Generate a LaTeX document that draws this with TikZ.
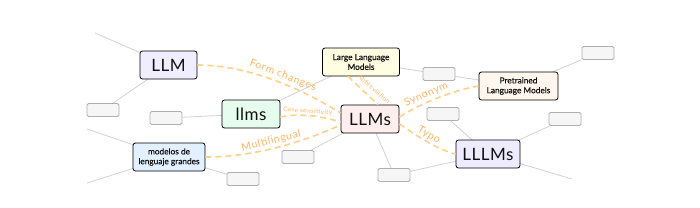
\documentclass[tikz,border=0pt]{standalone}
\usepackage{fontspec}
\setmainfont{Lato}
\newfontfamily\labfont[LetterSpace=6]{Lato}
\newfontfamily\bigfont[LetterSpace=3]{Lato}
\newfontfamily\smallfont[FakeBold=0.5]{Lato}
\usetikzlibrary{backgrounds}
\definecolor{cLLM}{HTML}{F0EDFF}
\definecolor{cllms}{HTML}{E6FCEF}
\definecolor{cmod}{HTML}{E2F0FF}
\definecolor{cLarge}{HTML}{FFFDE2}
\definecolor{cLLMs}{HTML}{FFEEEE}
\definecolor{cPre}{HTML}{FFF7EE}
\definecolor{cLLLMs}{HTML}{EEEBFF}
\definecolor{stubfill}{HTML}{F6F6F6}
\definecolor{stubline}{HTML}{AFAFAF}
\definecolor{linkgray}{HTML}{D2D2D2}
\definecolor{relorange}{HTML}{FFD08C}
\definecolor{laborange}{HTML}{FFB562}
\definecolor{txt}{HTML}{111111}
\begin{document}
\begin{tikzpicture}[x=1pt,y=-1pt,
  concept/.style={draw=black, line width=0.8pt, rounded corners=2.5pt, inner sep=0pt,
    minimum height=28pt, text=txt, align=center},
  bigc/.style={concept, font=\bigfont\fontsize{17}{20}\selectfont},
  smallc/.style={concept, font=\smallfont\fontsize{8.3}{9.8}\selectfont},
  stub/.style={draw=stubline, fill=stubfill, line width=0.8pt, rounded corners=1.5pt,
    minimum width=32pt, minimum height=13pt, inner sep=0pt},
  link/.style={draw=linkgray, line width=0.8pt},
  rel/.style={draw=relorange, line width=1.6pt, dash pattern=on 6pt off 4pt},
  rellab/.style={text=laborange, font=\labfont\fontsize{10.5}{12}\selectfont, sloped, inner sep=1pt},
  tinylab/.style={text=laborange, font=\labfont\fontsize{6.5}{8}\selectfont, inner sep=0.5pt},
]
\useasboundingbox (0,0) rectangle (700,207);

% concept nodes
\node[bigc, fill=cLLM, minimum width=57pt] (LLM) at (168.5,65) {LLM};
\node[bigc, fill=cllms, minimum width=58pt] (llms) at (251,114) {llms};
\node[smallc, fill=cmod, minimum width=72pt] (mod) at (169,157) {modelos de\\lenguaje grandes};
\node[smallc, fill=cLarge, minimum width=77pt] (large) at (361,62) {Large Language\\Models};
\node[bigc, fill=cLLMs, minimum width=58pt] (LLMs) at (370,119) {LLMs};
\node[smallc, fill=cPre, minimum width=79pt] (pre) at (518.5,86) {Pretrained\\Language Models};
\node[bigc, fill=cLLLMs, minimum width=64pt] (LLLMs) at (488,154) {LLLMs};

% stub nodes
\node[stub] (g1) at (103,110) {};
\node[stub] (g2) at (166,118) {};
\node[stub] (g3) at (243,179) {};
\node[stub] (g4) at (298,157) {};
\node[stub] (g5) at (394,175) {};
\node[stub] (g6) at (439,74) {};
\node[stub] (g7) at (598,53) {};
\node[stub] (g8) at (443,114) {};
\node[stub] (g9) at (565,119) {};

% free ends
\coordinate (f1) at (95,33);
\coordinate (f2) at (87,129);
\coordinate (f3) at (87,183);
\coordinate (f4) at (572,179);

\begin{scope}[on background layer]
  \fill[white] (0,0) rectangle (700,207);
  \draw[link] (f1) -- (LLM.center);
  \draw[link] (LLM.center) -- (g1);
  \draw[link] (llms.center) -- (g2);
  \draw[link] (llms.center) -- (large.center);
  \draw[link] (f2) -- (mod.center);
  \draw[link] (f3) -- (mod.center);
  \draw[link] (mod.center) -- (g3);
  \draw[link] (LLMs.center) -- (g4);
  \draw[link] (LLMs.center) -- (g5);
  \draw[link] (large.center) -- (g6);
  \draw[link] (g6) -- (pre.center);
  \draw[link] (pre.center) -- (g7);
  \draw[link] (LLLMs.center) -- (g8);
  \draw[link] (LLLMs.center) -- (g9);
  \draw[link] (LLLMs.center) -- (g5);
  \draw[link] (LLLMs.center) -- (f4);
\end{scope}

% relation curves
\draw[rel] (LLM.east) .. controls +(50,0) and +(-40,-25) .. ([yshift=6pt]LLMs.west)
  node[rellab, pos=0.55, above=1pt] {Form changes};
\draw[rel] ([yshift=-3pt]llms.east) .. controls +(20,-4) and +(-20,-6) .. ([yshift=-3pt]LLMs.west)
  node[rellab, font=\labfont\fontsize{6.5}{8}\selectfont, inner sep=0.5pt, pos=0.45, above=0pt] {Case sensitivity};
\draw[rel] (mod.east) .. controls +(45,0) and +(-45,20) .. ([yshift=-6pt]LLMs.west)
  node[rellab, pos=0.5, above=1pt] {Multilingual};
\draw[rel] ([xshift=-13pt]large.south) -- ([xshift=8pt]LLMs.north);
\node[tinylab, rotate=-41] (abbr) at (374,89) {Abbreviation};
\draw[rel] ([yshift=2pt]LLMs.east) .. controls +(15,-10) and +(-30,5) .. (pre.west)
  node[rellab, pos=0.45, above=1pt] {Synonym};
\draw[rel] ([yshift=-5pt]LLMs.east) .. controls +(15,10) and +(-20,-5) .. (LLLMs.west)
  node[rellab, pos=0.5, above=0pt] {Typo};
\end{tikzpicture}
\end{document}
